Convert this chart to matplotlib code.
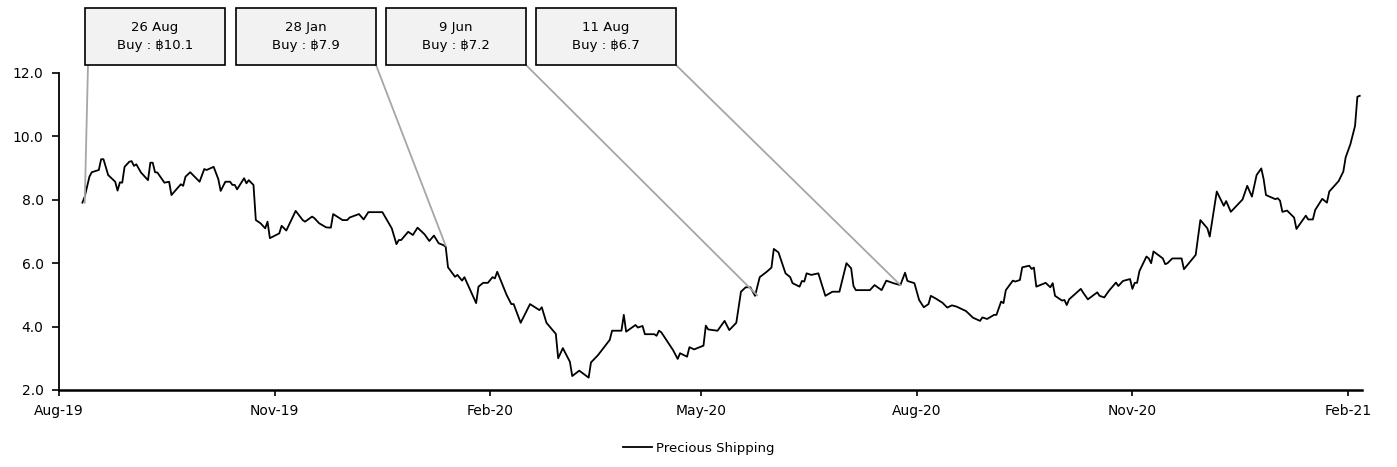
import pandas as pd
import matplotlib
matplotlib.use("Agg")
import matplotlib.pyplot as plt
import matplotlib.dates as mdates
from matplotlib.patches import Rectangle

plt.rcParams['font.family'] = ['DejaVu Sans', 'Noto Sans']

# daily close, Precious Shipping (baht)
dates = [
    "2019-08-11", "2019-08-12", "2019-08-14", "2019-08-15", "2019-08-18", "2019-08-19", "2019-08-20",
    "2019-08-22", "2019-08-25", "2019-08-26", "2019-08-27", "2019-08-28", "2019-08-29", "2019-08-31",
    "2019-09-01", "2019-09-02", "2019-09-03", "2019-09-05", "2019-09-08", "2019-09-09", "2019-09-10",
    "2019-09-11", "2019-09-12", "2019-09-15", "2019-09-17", "2019-09-18", "2019-09-22", "2019-09-23",
    "2019-09-24", "2019-09-26", "2019-09-30", "2019-10-02", "2019-10-03", "2019-10-06", "2019-10-08",
    "2019-10-09", "2019-10-11", "2019-10-13", "2019-10-14", "2019-10-15", "2019-10-16", "2019-10-19",
    "2019-10-20", "2019-10-21", "2019-10-22", "2019-10-23", "2019-10-24", "2019-10-26", "2019-10-28",
    "2019-10-29", "2019-10-30", "2019-11-03", "2019-11-04", "2019-11-06", "2019-11-10", "2019-11-13",
    "2019-11-14", "2019-11-17", "2019-11-18", "2019-11-20", "2019-11-23", "2019-11-25", "2019-11-26",
    "2019-11-30", "2019-12-02", "2019-12-03", "2019-12-07", "2019-12-09", "2019-12-11", "2019-12-17",
    "2019-12-21", "2019-12-23", "2019-12-24", "2019-12-25", "2019-12-28", "2019-12-30", "2020-01-01",
    "2020-01-04", "2020-01-06", "2020-01-08", "2020-01-10", "2020-01-12", "2020-01-13", "2020-01-14",
    "2020-01-17", "2020-01-18", "2020-01-20", "2020-01-21", "2020-01-26", "2020-01-27", "2020-01-29",
    "2020-01-31", "2020-02-02", "2020-02-03", "2020-02-04", "2020-02-08", "2020-02-10", "2020-02-11",
    "2020-02-14", "2020-02-18", "2020-02-22", "2020-02-23", "2020-02-25", "2020-02-29", "2020-03-01",
    "2020-03-03", "2020-03-06", "2020-03-07", "2020-03-10", "2020-03-14", "2020-03-15", "2020-03-18",
    "2020-03-23", "2020-03-24", "2020-03-28", "2020-03-29", "2020-03-30", "2020-04-03", "2020-04-04",
    "2020-04-06", "2020-04-07", "2020-04-11", "2020-04-12", "2020-04-13", "2020-04-14", "2020-04-19",
    "2020-04-21", "2020-04-22", "2020-04-25", "2020-04-26", "2020-04-28", "2020-05-02", "2020-05-03",
    "2020-05-04", "2020-05-08", "2020-05-11", "2020-05-13", "2020-05-16", "2020-05-18", "2020-05-20",
    "2020-05-22", "2020-05-24", "2020-05-26", "2020-05-29", "2020-05-31", "2020-06-01", "2020-06-03",
    "2020-06-06", "2020-06-08", "2020-06-09", "2020-06-12", "2020-06-13", "2020-06-14", "2020-06-15",
    "2020-06-17", "2020-06-20", "2020-06-23", "2020-06-26", "2020-06-29", "2020-07-02", "2020-07-04",
    "2020-07-05", "2020-07-06", "2020-07-12", "2020-07-14", "2020-07-17", "2020-07-19", "2020-07-22",
    "2020-07-25", "2020-07-27", "2020-07-28", "2020-07-31", "2020-08-02", "2020-08-04", "2020-08-06",
    "2020-08-07", "2020-08-09", "2020-08-12", "2020-08-14", "2020-08-16", "2020-08-18", "2020-08-22",
    "2020-08-23", "2020-08-25", "2020-08-28", "2020-08-29", "2020-08-31", "2020-09-03", "2020-09-04",
    "2020-09-06", "2020-09-07", "2020-09-08", "2020-09-11", "2020-09-12", "2020-09-14", "2020-09-15",
    "2020-09-18", "2020-09-19", "2020-09-20", "2020-09-21", "2020-09-25", "2020-09-27", "2020-09-28",
    "2020-09-29", "2020-10-02", "2020-10-03", "2020-10-04", "2020-10-05", "2020-10-10", "2020-10-11",
    "2020-10-13", "2020-10-17", "2020-10-18", "2020-10-20", "2020-10-22", "2020-10-25", "2020-10-26",
    "2020-10-28", "2020-10-31", "2020-11-01", "2020-11-02", "2020-11-03", "2020-11-04", "2020-11-07",
    "2020-11-08", "2020-11-09", "2020-11-10", "2020-11-14", "2020-11-15", "2020-11-16", "2020-11-18",
    "2020-11-22", "2020-11-23", "2020-11-28", "2020-11-30", "2020-12-03", "2020-12-04", "2020-12-06",
    "2020-12-07", "2020-12-10", "2020-12-11", "2020-12-13", "2020-12-18", "2020-12-20", "2020-12-22",
    "2020-12-24", "2020-12-26", "2020-12-27", "2020-12-28", "2021-01-01", "2021-01-02", "2021-01-03",
    "2021-01-04", "2021-01-06", "2021-01-09", "2021-01-10", "2021-01-14", "2021-01-15", "2021-01-17",
    "2021-01-18", "2021-01-21", "2021-01-23", "2021-01-24", "2021-01-28", "2021-01-30", "2021-01-31",
    "2021-02-02", "2021-02-04", "2021-02-05", "2021-02-06",
]
prices = [
    7.91, 8.10, 8.73, 8.87, 8.94, 9.28, 9.28,
    8.78, 8.57, 8.29, 8.55, 8.54, 9.04, 9.20,
    9.22, 9.07, 9.12, 8.86, 8.62, 9.17, 9.17,
    8.87, 8.86, 8.54, 8.57, 8.15, 8.49, 8.44,
    8.73, 8.87, 8.57, 8.97, 8.94, 9.04, 8.65,
    8.28, 8.57, 8.57, 8.47, 8.47, 8.33, 8.68,
    8.52, 8.62, 8.54, 8.47, 7.36, 7.26, 7.10,
    7.31, 6.79, 6.94, 7.18, 7.03, 7.65, 7.36,
    7.31, 7.47, 7.42, 7.26, 7.13, 7.12, 7.55,
    7.36, 7.36, 7.44, 7.55, 7.38, 7.61, 7.61,
    7.10, 6.60, 6.73, 6.73, 6.99, 6.89, 7.12,
    6.91, 6.70, 6.87, 6.63, 6.57, 6.52, 5.87,
    5.57, 5.63, 5.45, 5.56, 4.74, 5.26, 5.38,
    5.38, 5.56, 5.52, 5.73, 5.00, 4.71, 4.71,
    4.12, 4.71, 4.52, 4.61, 4.12, 3.77, 3.00,
    3.32, 2.89, 2.44, 2.61, 2.39, 2.87, 3.10,
    3.58, 3.87, 3.87, 4.37, 3.84, 4.05, 3.97,
    4.02, 3.76, 3.76, 3.71, 3.87, 3.82, 3.26,
    2.98, 3.16, 3.05, 3.35, 3.28, 3.40, 4.03,
    3.91, 3.87, 4.18, 3.89, 4.12, 5.10, 5.24,
    5.24, 4.97, 5.56, 5.73, 5.86, 6.45, 6.34,
    5.68, 5.56, 5.37, 5.26, 5.44, 5.42, 5.68,
    5.63, 5.68, 4.97, 5.10, 5.10, 6.00, 5.84,
    5.28, 5.15, 5.15, 5.31, 5.15, 5.45, 5.37,
    5.31, 5.70, 5.44, 5.37, 4.84, 4.61, 4.71,
    4.97, 4.89, 4.75, 4.60, 4.67, 4.63, 4.49,
    4.42, 4.28, 4.18, 4.29, 4.24, 4.37, 4.37,
    4.79, 4.74, 5.15, 5.45, 5.42, 5.47, 5.87,
    5.92, 5.82, 5.86, 5.26, 5.38, 5.24, 5.37,
    4.97, 4.82, 4.84, 4.68, 4.86, 5.19, 5.07,
    4.86, 5.08, 4.97, 4.92, 5.13, 5.39, 5.28,
    5.44, 5.50, 5.19, 5.38, 5.38, 5.75, 6.21,
    6.15, 6.00, 6.37, 6.15, 5.97, 6.00, 6.15,
    6.15, 5.81, 6.26, 7.36, 7.10, 6.84, 7.78,
    8.26, 7.81, 7.96, 7.62, 8.01, 8.44, 8.10,
    8.78, 8.99, 8.65, 8.15, 8.02, 8.05, 7.97,
    7.62, 7.66, 7.44, 7.08, 7.50, 7.38, 7.38,
    7.68, 8.03, 7.91, 8.26, 8.59, 8.89, 9.34,
    9.75, 10.33, 11.25, 11.28,
]

# buy calls
call_labels = ["26 Aug\nBuy : ฿10.1", "28 Jan\nBuy : ฿7.9", "9 Jun\nBuy : ฿7.2", "11 Aug\nBuy : ฿6.7"]
call_dates = ["2019-08-12", "2020-01-13", "2020-05-25", "2020-07-25"]
call_prices = [7.90, 6.55, 4.98, 5.31]

df = pd.DataFrame({"date": pd.to_datetime(dates), "price": prices})

fig = plt.figure(figsize=(13.97, 4.67), dpi=100)
ax = fig.add_axes([0.0422, 0.1649, 0.9328, 0.6788])

ax.plot(df["date"], df["price"], color="black", lw=1.3, label="Precious Shipping")

ax.set_ylim(2, 12)
ax.set_yticks([2, 4, 6, 8, 10, 12])
ax.yaxis.set_major_formatter(plt.FormatStrFormatter("%.1f"))
ax.set_xlim(pd.Timestamp("2019-08-01"), pd.Timestamp("2021-02-07"))
ax.xaxis.set_major_locator(mdates.MonthLocator(bymonth=[2, 5, 8, 11]))
ax.xaxis.set_major_formatter(mdates.DateFormatter("%b-%y"))

ax.spines["top"].set_visible(False)
ax.spines["right"].set_visible(False)
ax.spines["left"].set_linewidth(1.3)
ax.spines["bottom"].set_linewidth(1.8)
ax.tick_params(axis="y", direction="out", length=5, width=1.2, pad=6, labelsize=10)
ax.tick_params(axis="x", direction="out", length=4, width=1.2, pad=6, labelsize=10)

# boxes with leader lines
box_left = [85, 236, 386, 536]
box_w, box_top, box_bot = 140, 8, 65
W, H = 1397, 467
for i, lab in enumerate(call_labels):
    x0 = box_left[i] / W
    y0 = 1 - box_bot / H
    fig.patches.append(Rectangle((x0, y0), box_w / W, (box_bot - box_top) / H,
                                 transform=fig.transFigure, facecolor="#f2f2f2",
                                 edgecolor="black", lw=1.2, zorder=3))
    fig.text(x0 + box_w / W / 2, 1 - (box_top + box_bot) / 2 / H, lab,
             ha="center", va="center", fontsize=9.5, linespacing=1.45, zorder=4)
    if i == 0:
        start = ((box_left[i] + 3) / W, y0)
    else:
        start = ((box_left[i] + box_w) / W, y0)
    ax.annotate("", xy=(pd.Timestamp(call_dates[i]), call_prices[i]), xycoords="data",
                xytext=start, textcoords="figure fraction",
                arrowprops=dict(arrowstyle="-", color="#a6a6a6", lw=1.3,
                                shrinkA=0, shrinkB=0), annotation_clip=False)

fig.legend(loc="center", bbox_to_anchor=(0.5, 0.04), frameon=False, fontsize=9.5,
           handlelength=2.2, handletextpad=0.3)

fig.savefig("out.png", dpi=100)
